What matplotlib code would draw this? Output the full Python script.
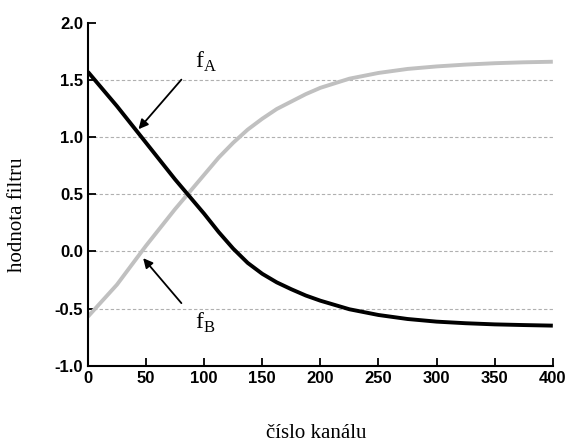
import matplotlib
matplotlib.use("Agg")
import matplotlib.pyplot as plt

# hodnoty
kanal = [0, 25, 50, 75, 100, 112.5, 125, 137.5, 150, 162.5, 175, 187.5, 200,
         225, 250, 275, 300, 325, 350, 375, 400]
f_a = [1.57, 1.27, 0.95, 0.63, 0.33, 0.17, 0.025, -0.10, -0.195, -0.27, -0.33, -0.385, -0.43,
       -0.505, -0.555, -0.59, -0.613, -0.627, -0.637, -0.643, -0.648]
f_b = [-0.57, -0.29, 0.05, 0.37, 0.67, 0.82, 0.95, 1.065, 1.16, 1.245, 1.31, 1.375, 1.43,
       1.51, 1.56, 1.595, 1.617, 1.633, 1.645, 1.653, 1.658]
y_ticks = [-1.0, -0.5, 0.0, 0.5, 1.0, 1.5, 2.0]
x_ticks = [0, 50, 100, 150, 200, 250, 300, 350, 400]
grid_y = [-0.5, 0.0, 0.5, 1.0, 1.5]

fig = plt.figure(figsize=(5.67, 4.43), dpi=100)
ax = fig.add_axes([0.155, 0.174, 0.82, 0.775])

for g in grid_y:
    ax.axhline(g, color="#b0b0b0", lw=0.8, ls=(0, (3, 2)), zorder=0)

ax.plot(kanal, f_b, color="#c0c0c0", lw=2.8, solid_capstyle="butt", solid_joinstyle="round")
ax.plot(kanal, f_a, color="black", lw=2.8, solid_capstyle="butt", solid_joinstyle="round")

ax.set_xlim(0, 400)
ax.set_ylim(-1.0, 2.0)
ax.set_xticks(x_ticks)
ax.set_yticks(y_ticks)
ax.set_yticklabels([f"{v:.1f}" for v in y_ticks])
ax.tick_params(direction="in", length=6, width=1.3, labelsize=12)
ax.tick_params(axis="x", pad=4)
for lab in ax.get_xticklabels() + ax.get_yticklabels():
    lab.set_fontfamily("Liberation Sans")
    lab.set_fontweight("bold")

ax.spines["top"].set_visible(False)
ax.spines["right"].set_visible(False)
ax.spines["left"].set_linewidth(1.5)
ax.spines["bottom"].set_linewidth(1.5)

# popisky os
fig.text(18 / 567, 1 - 215 / 443, "hodnota filtru", family="Liberation Serif", fontsize=15,
         rotation=90, ha="center", va="center")
fig.text(316 / 567, 1 - 438 / 443, "číslo kanálu", family="Liberation Serif", fontsize=15,
         ha="center", va="baseline")

# popisky s šipkami
ax.annotate("", xy=(42, 1.05), xytext=(82, 1.52),
            arrowprops=dict(arrowstyle="-|>", color="black", lw=1.3, mutation_scale=14))
ax.text(92, 1.66, r"f$_\mathregular{A}$", family="Liberation Serif", fontsize=17, va="center")
ax.annotate("", xy=(46, -0.04), xytext=(82, -0.47),
            arrowprops=dict(arrowstyle="-|>", color="black", lw=1.3, mutation_scale=14))
ax.text(92, -0.62, r"f$_\mathregular{B}$", family="Liberation Serif", fontsize=17, va="center")

fig.savefig("out.png", dpi=100)
